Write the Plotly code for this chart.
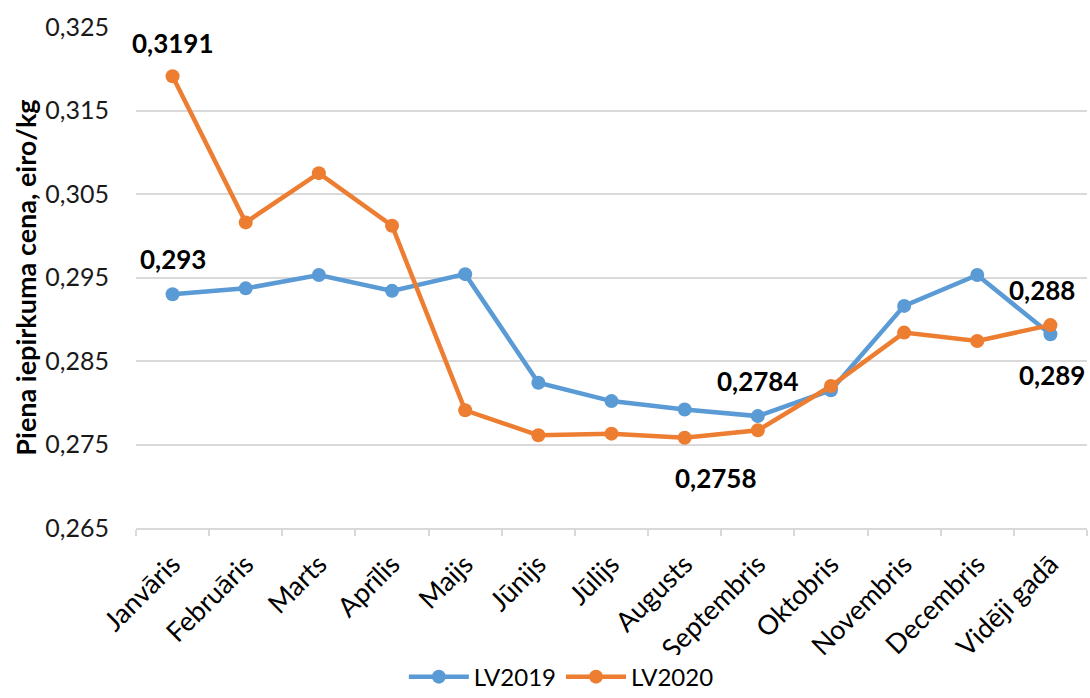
import plotly.graph_objects as go

categories = ["Janvāris", "Februāris", "Marts", "Aprīlis", "Maijs", "Jūnijs",
              "Jūlijs", "Augusts", "Septembris", "Oktobris", "Novembris",
              "Decembris", "Vidēji gadā"]
lv2019 = [0.2930, 0.2937, 0.2953, 0.2934, 0.2954, 0.2824, 0.2802,
          0.2792, 0.2784, 0.2815, 0.2916, 0.2953, 0.2882]
lv2020 = [0.3191, 0.3016, 0.3075, 0.3012, 0.2791, 0.2761, 0.2763,
          0.2758, 0.2767, 0.2820, 0.2884, 0.2874, 0.2893]

# data labels: (category, value, text, xshift, yshift)
labels = [
    ("Janvāris", lv2020[0], "0,3191", 0, 33),
    ("Janvāris", lv2019[0], "0,293", 0, 35),
    ("Septembris", lv2019[8], "0,2784", 0, 35),
    ("Augusts", lv2020[7], "0,2758", 31, -40),
    ("Vidēji gadā", lv2019[12], "0,288", -8, 44),
    ("Vidēji gadā", lv2020[12], "0,289", 2, -50),
]

FONT = "Lato"
BLUE = "#5B9BD5"
ORANGE = "#ED7D31"

fig = go.Figure()
fig.add_trace(go.Scatter(x=categories, y=lv2019, name="LV2019", mode="lines+markers",
                         line=dict(color=BLUE, width=4.5),
                         marker=dict(color=BLUE, size=14)))
fig.add_trace(go.Scatter(x=categories, y=lv2020, name="LV2020", mode="lines+markers",
                         line=dict(color=ORANGE, width=4.5),
                         marker=dict(color=ORANGE, size=14)))

for cat, val, txt, xs, ys in labels:
    fig.add_annotation(x=cat, y=val, text="<b>" + txt + "</b>", showarrow=False,
                       xshift=xs, yshift=ys,
                       font=dict(family=FONT, size=26, color="#000000"))

fig.update_layout(
    width=1090, height=698,
    margin=dict(l=136, r=3, t=27, b=170, autoexpand=False),
    paper_bgcolor="white", plot_bgcolor="white",
    separators=", ",
    font=dict(family=FONT, size=25, color="#1a1a1a"),
    showlegend=True,
    legend=dict(orientation="h", xref="container", yref="container",
                x=0.515, y=0.03, xanchor="center", yanchor="middle",
                font=dict(family=FONT, size=24, color="#000000"),
                itemwidth=60, tracegroupgap=0),
    xaxis=dict(type="category", range=[-0.5, 12.5], tickangle=-45, showgrid=False,
               automargin=False,
               showline=True, linecolor="#d9d9d9", linewidth=1.5,
               ticks="outside", tickson="boundaries", ticklen=6,
               tickcolor="#d9d9d9", tickwidth=1.5, ticklabelstandoff=8,
               tickfont=dict(family=FONT, size=27, color="#000000")),
    yaxis=dict(range=[0.265, 0.325], dtick=0.01, tick0=0.265, automargin=False,
               tickformat=".3f", showgrid=True, gridcolor="#d9d9d9", gridwidth=1.5,
               zeroline=False, showline=False, ticklabelstandoff=26,
               tickfont=dict(family=FONT, size=25, color="#1a1a1a"),
               title=dict(text="<b>Piena iepirkuma cena, eiro/kg</b>", standoff=0,
                          font=dict(family=FONT, size=27, color="#000000"))),
)

fig.write_html("out.html", config={"displayModeBar": False},
               post_script="document.body.style.margin='0';")
